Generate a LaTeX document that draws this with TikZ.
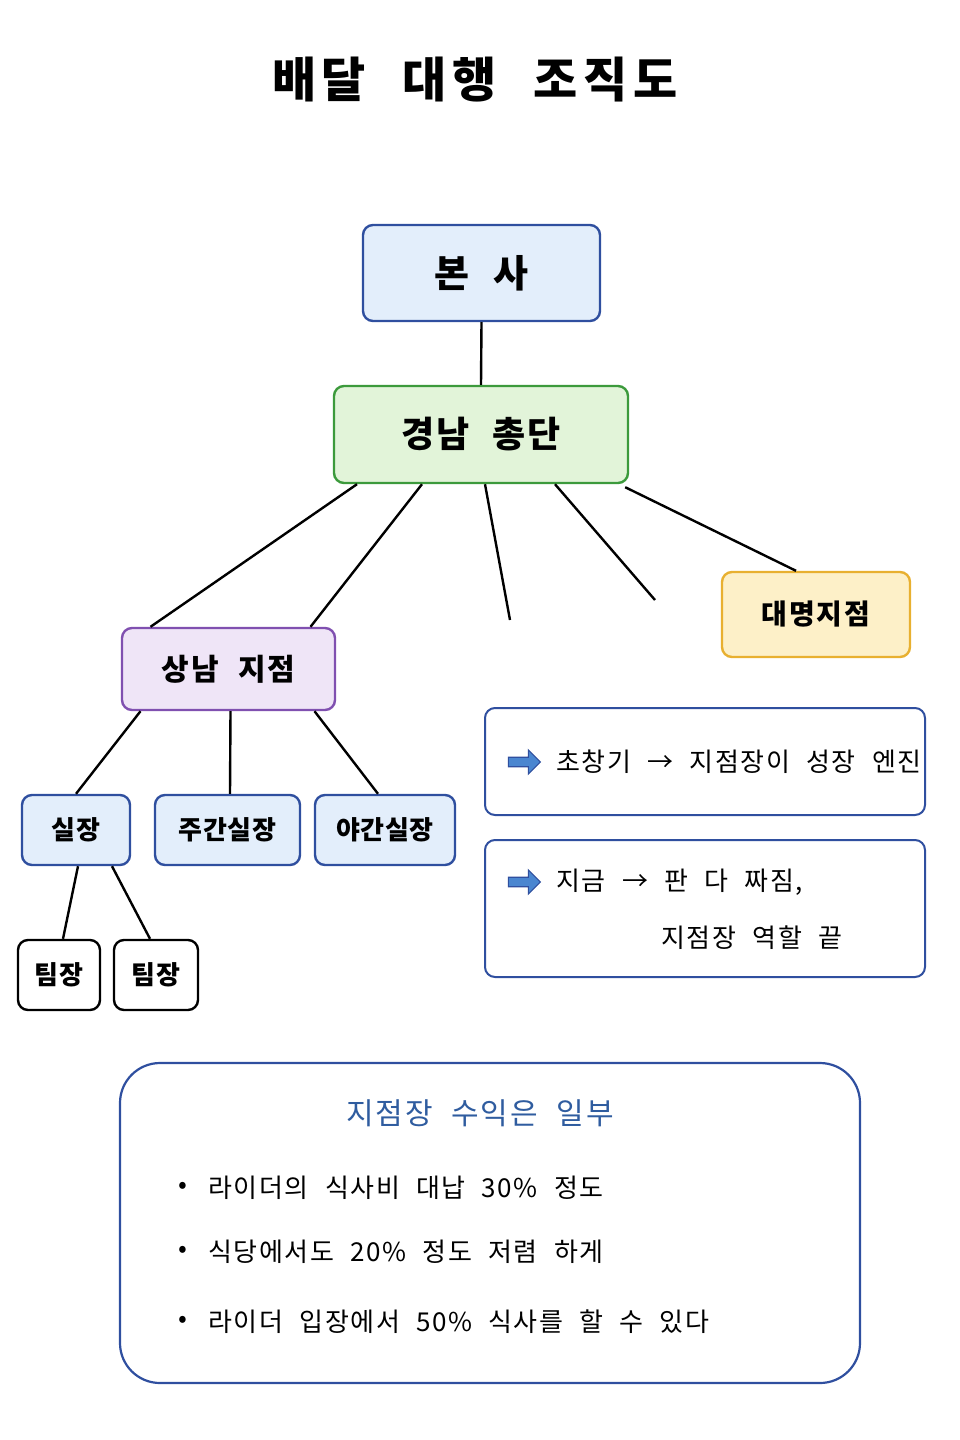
\documentclass[tikz,border=0pt]{standalone}
\usepackage{fontspec}
\setmainfont{Noto Sans CJK KR}[LetterSpace=6,WordSpace=2.2]
\usetikzlibrary{shapes.arrows}
\definecolor{bblue}{HTML}{2F4F9F}
\definecolor{fblue}{HTML}{E3EEFB}
\definecolor{bgreen}{HTML}{3C9A3C}
\definecolor{fgreen}{HTML}{E2F4D9}
\definecolor{bpurp}{HTML}{8050B0}
\definecolor{fpurp}{HTML}{EFE5F7}
\definecolor{byel}{HTML}{E8B030}
\definecolor{fyel}{HTML}{FDF0C8}
\definecolor{tblue}{HTML}{2F5C9F}
\definecolor{iblue}{HTML}{4A86D0}
\begin{document}
\begin{tikzpicture}[x=1pt,y=-1pt,
  box/.style={draw,line width=2.4pt,rounded corners=10pt,inner sep=0pt},
  lk/.style={line width=2.4pt,black},
  icon/.style={single arrow,draw=bblue,fill=iblue,line width=1.2pt,minimum width=24pt,minimum height=32pt,single arrow head extend=4pt,inner sep=2pt}]
\useasboundingbox (0,0) rectangle (960,1440);
\node (title) at (475,80) {\fontsize{48}{60}\selectfont\bfseries\addfontfeatures{LetterSpace=12} 배달 대행 조직도};
\node[box,draw=bblue,fill=fblue,minimum width=237pt,minimum height=96pt] (hq) at (481.5,273) {\fontsize{38}{44}\selectfont\bfseries 본 사};
\node[box,draw=bgreen,fill=fgreen,minimum width=294pt,minimum height=97pt] (gn) at (481,434.5) {\fontsize{36}{42}\selectfont\bfseries 경남 총단};
\node[box,draw=byel,fill=fyel,minimum width=188pt,minimum height=85pt] (dm) at (816,614.5) {\fontsize{28}{34}\selectfont\bfseries 대명지점};
\node[box,draw=bpurp,fill=fpurp,minimum width=213pt,minimum height=82pt] (sn) at (228.5,669) {\fontsize{30}{36}\selectfont\bfseries 상남 지점};
\node[box,draw=bblue,fill=fblue,minimum width=108pt,minimum height=70pt] (s1) at (76,830) {\fontsize{26}{32}\selectfont\bfseries 실장};
\node[box,draw=bblue,fill=fblue,minimum width=145pt,minimum height=70pt] (s2) at (227.5,830) {\fontsize{26}{32}\selectfont\bfseries\addfontfeatures{LetterSpace=2} 주간실장};
\node[box,draw=bblue,fill=fblue,minimum width=140pt,minimum height=70pt] (s3) at (385,830) {\fontsize{26}{32}\selectfont\bfseries\addfontfeatures{LetterSpace=2} 야간실장};
\node[box,draw=black,fill=white,minimum width=82pt,minimum height=70pt] (t1) at (59,975) {\fontsize{26}{32}\selectfont\bfseries 팀장};
\node[box,draw=black,fill=white,minimum width=84pt,minimum height=70pt] (t2) at (156,975) {\fontsize{26}{32}\selectfont\bfseries 팀장};
\coordinate (e1) at (510,620);
\coordinate (e2) at (655,600);
\draw[lk] (hq.south) -- (gn.north);
\draw[lk] ([xshift=-124pt]gn.south) -- ([xshift=-78pt]sn.north);
\draw[lk] ([xshift=-59pt]gn.south) -- ([xshift=82pt]sn.north);
\draw[lk] ([xshift=4pt]gn.south) -- (e1);
\draw[lk] ([xshift=74pt]gn.south) -- (e2);
\draw[lk] (gn.south east) ++(-4pt,-3pt) -- ([xshift=-20pt]dm.north);
\draw[lk] ([xshift=-88pt]sn.south) -- (s1.north);
\draw[lk] ([xshift=2pt]sn.south) -- ([xshift=2.5pt]s2.north);
\draw[lk] ([xshift=86pt]sn.south) -- ([xshift=-7pt]s3.north);
\draw[lk] ([xshift=2pt]s1.south) -- ([xshift=4pt]t1.north);
\draw[lk] ([xshift=36pt]s1.south) -- ([xshift=-6pt]t2.north);
\node[box,draw=bblue,fill=white,line width=2pt,minimum width=440pt,minimum height=107pt] (n1) at (705,761.5) {};
\node[icon] (i1) at (522,762) {};
\node[anchor=west] (n1t) at (553,762) {\fontsize{26}{32}\selectfont 초창기 → 지점장이 성장 엔진};
\node[box,draw=bblue,fill=white,line width=2pt,minimum width=440pt,minimum height=137pt] (n2) at (705,908.5) {};
\node[icon] (i2) at (522,882) {};
\node[anchor=west] (n2t) at (553,882) {\fontsize{26}{32}\selectfont 지금 → 판 다 짜짐,};
\node[anchor=west] (n2u) at (658,938) {\fontsize{26}{32}\selectfont 지점장 역할 끝};
\node[draw=bblue,line width=2.2pt,rounded corners=40pt,minimum width=740pt,minimum height=320pt] (bb) at (490,1223) {};
\node (bt) at (480,1113) {\fontsize{30}{36}\selectfont\color{tblue} 지점장 수익은 일부};
\foreach \yy/\tx [count=\i] in {1188/라이더의 식사비 대납 30\% 정도,1252/식당에서도 20\% 정도 저렴 하게,1322/라이더 입장에서 50\% 식사를 할 수 있다}{
  \node (b\i) at (183,\yy) {\fontsize{26}{30}\selectfont •};
  \node[anchor=west] (bl\i) at (205,\yy) {\fontsize{26}{32}\selectfont \tx};
}
\end{tikzpicture}
\end{document}
